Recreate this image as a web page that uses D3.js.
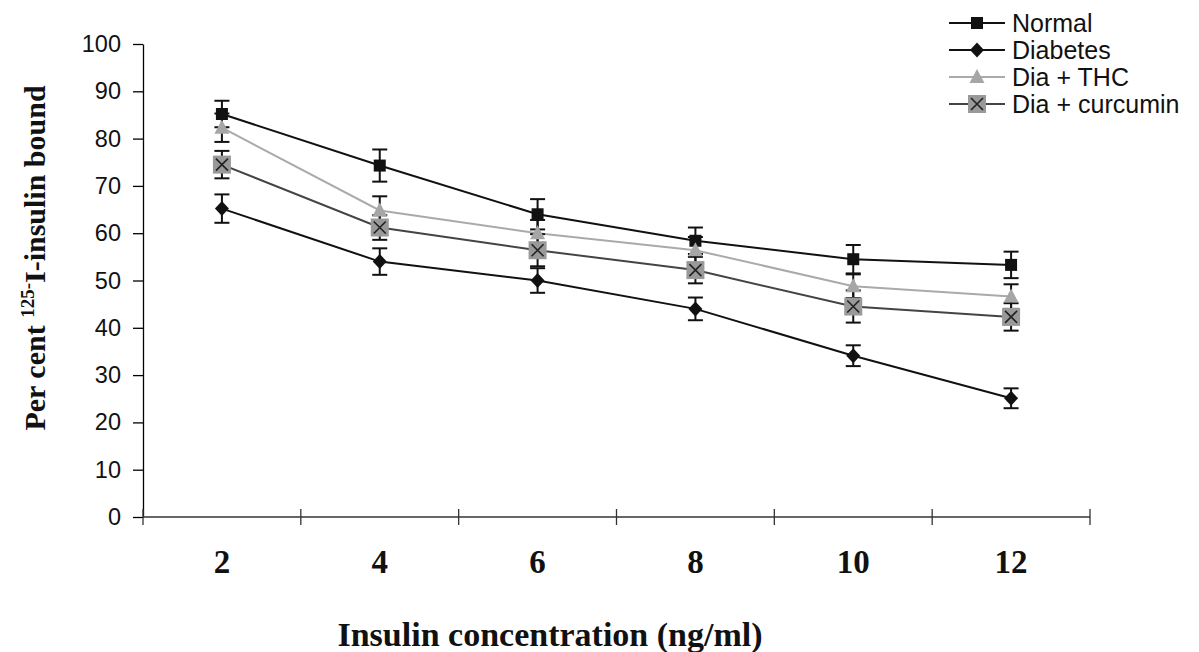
<!DOCTYPE html>
<html>
<head>
<meta charset="utf-8">
<script src="https://cdn.jsdelivr.net/npm/d3@7"></script>
<style>
  body { margin: 0; background: #fff; }
</style>
</head>
<body>
<div id="chart"></div>
<script>
const width = 1199;
const height = 652;

// insulin concentration (ng/ml)
const concentrations = ["2", "4", "6", "8", "10", "12"];
const yTicks = [0, 10, 20, 30, 40, 50, 60, 70, 80, 90, 100];

const normal = [85.2, 74.3, 64.0, 58.4, 54.5, 53.3];
const normalErr = [2.8, 3.4, 3.2, 2.8, 3.0, 2.8];
const diabetes = [65.2, 54.0, 50.0, 44.0, 34.1, 25.1];
const diabetesErr = [3.0, 2.8, 2.6, 2.4, 2.2, 2.1];
const diaThc = [82.3, 64.8, 60.0, 56.4, 48.8, 46.6];
const diaThcErr = [3.0, 3.0, 2.8, 2.8, 2.5, 2.6];
const diaCurcumin = [74.5, 61.2, 56.4, 52.2, 44.5, 42.3];
const diaCurcuminErr = [2.9, 2.6, 3.4, 2.8, 3.4, 2.9];

const seriesNames = ["Normal", "Diabetes", "Dia + THC", "Dia + curcumin"];

const series = [
    { name: seriesNames[0], values: normal, err: normalErr, line: "#111", marker: "square" },
    { name: seriesNames[1], values: diabetes, err: diabetesErr, line: "#111", marker: "diamond" },
    { name: seriesNames[2], values: diaThc, err: diaThcErr, line: "#aaa", marker: "triangle" },
    { name: seriesNames[3], values: diaCurcumin, err: diaCurcuminErr, line: "#444", marker: "xbox" }
];

const serif = "'Liberation Serif', 'Times New Roman', serif";
const sans = "'Liberation Sans', Arial, sans-serif";

const svg = d3.select("#chart")
    .append("svg")
    .attr("width", width)
    .attr("height", height)
    .style("font-family", sans);

const x = d3.scaleBand()
    .domain(concentrations)
    .range([143, 1090]);

const y = d3.scaleLinear()
    .domain([0, 100])
    .range([517, 44]);

// y axis
const yAxis = svg.append("g")
    .attr("transform", `translate(${x.range()[0]},0)`)
    .call(d3.axisLeft(y).tickValues(yTicks).tickSize(10).tickSizeOuter(0).tickPadding(12));
yAxis.select(".domain").attr("stroke", "#000").attr("stroke-width", 1.3);
yAxis.selectAll("line").attr("stroke", "#000").attr("stroke-width", 1.3);
yAxis.selectAll("text")
    .attr("font-size", "23.5px")
    .attr("font-family", sans)
    .attr("fill", "#111");

// x axis: ticks at band boundaries, crossing the line
const xAxis = svg.append("g");
xAxis.append("line")
    .attr("x1", x.range()[0]).attr("x2", x.range()[1])
    .attr("y1", y(0)).attr("y2", y(0))
    .attr("stroke", "#333").attr("stroke-width", 1.3);
const boundaries = concentrations.map(c => x(c)).concat([x.range()[1]]);
xAxis.selectAll(".tick")
    .data(boundaries)
    .enter()
    .append("line")
    .attr("x1", d => d).attr("x2", d => d)
    .attr("y1", y(0) - 8).attr("y2", y(0) + 8)
    .attr("stroke", "#333").attr("stroke-width", 1.3);
xAxis.selectAll(".lab")
    .data(concentrations)
    .enter()
    .append("text")
    .attr("x", d => x(d) + x.bandwidth() / 2)
    .attr("y", 573)
    .attr("text-anchor", "middle")
    .attr("font-family", serif)
    .attr("font-weight", "bold")
    .attr("font-size", "33px")
    .attr("fill", "#111")
    .text(d => d);

// axis titles
svg.append("text")
    .attr("x", 550)
    .attr("y", 646)
    .attr("text-anchor", "middle")
    .attr("font-family", serif)
    .attr("font-weight", "bold")
    .attr("font-size", "34px")
    .attr("fill", "#111")
    .text("Insulin concentration (ng/ml)");

const yTitle = svg.append("text")
    .attr("transform", "translate(45,258) rotate(-90)")
    .attr("text-anchor", "middle")
    .attr("font-family", serif)
    .attr("font-weight", "bold")
    .attr("font-size", "30px")
    .attr("fill", "#111");
yTitle.append("tspan").text("Per cent ");
yTitle.append("tspan").attr("font-size", "19px").attr("dy", "-11").text("125-");
yTitle.append("tspan").attr("dy", "11").text("I-insulin bound");

const cx = d => x(d) + x.bandwidth() / 2;

const line = d3.line()
    .x((d, i) => cx(concentrations[i]))
    .y(d => y(d));

function drawMarker(g, type, px, py) {
    if (type === "square") {
        g.append("rect")
            .attr("x", px - 6).attr("y", py - 6)
            .attr("width", 12).attr("height", 12)
            .attr("fill", "#111");
    } else if (type === "diamond") {
        g.append("path")
            .attr("d", `M${px},${py - 7.5}L${px + 7},${py}L${px},${py + 7.5}L${px - 7},${py}Z`)
            .attr("fill", "#111");
    } else if (type === "triangle") {
        g.append("path")
            .attr("d", `M${px},${py - 8}L${px + 7.5},${py + 6}L${px - 7.5},${py + 6}Z`)
            .attr("fill", "#a6a6a6");
    } else {
        g.append("rect")
            .attr("x", px - 9).attr("y", py - 9)
            .attr("width", 18).attr("height", 18)
            .attr("fill", "#999");
        g.append("path")
            .attr("d", `M${px - 6},${py - 6}L${px + 6},${py + 6}M${px + 6},${py - 6}L${px - 6},${py + 6}`)
            .attr("stroke", "#222").attr("stroke-width", 1.6);
    }
}

// lines
series.forEach(s => {
    svg.append("path")
        .datum(s.values)
        .attr("fill", "none")
        .attr("stroke", s.line)
        .attr("stroke-width", 2)
        .attr("d", line);
});

// error bars
series.forEach(s => {
    const g = svg.append("g");
    s.values.forEach((v, i) => {
        const px = cx(concentrations[i]);
        const hi = y(v + s.err[i]);
        const lo = y(v - s.err[i]);
        g.append("line")
            .attr("x1", px).attr("x2", px).attr("y1", hi).attr("y2", lo)
            .attr("stroke", "#111").attr("stroke-width", 2);
        [hi, lo].forEach(cy => g.append("line")
            .attr("x1", px - 7.5).attr("x2", px + 7.5).attr("y1", cy).attr("y2", cy)
            .attr("stroke", "#111").attr("stroke-width", 2));
    });
});

series.forEach(s => {
    const g = svg.append("g");
    s.values.forEach((v, i) => drawMarker(g, s.marker, cx(concentrations[i]), y(v)));
});

// legend
const legend = svg.append("g");
series.forEach((s, i) => {
    const ly = 23 + i * 27;
    const lg = legend.append("g");
    lg.append("line")
        .attr("x1", 949).attr("x2", 1005).attr("y1", ly).attr("y2", ly)
        .attr("stroke", s.line).attr("stroke-width", 2);
    drawMarker(lg, s.marker, 977, ly);
    lg.append("text")
        .attr("x", 1012)
        .attr("y", ly + 9)
        .attr("font-size", "25px")
        .attr("fill", "#111")
        .text(s.name);
});
</script>
</body>
</html>
